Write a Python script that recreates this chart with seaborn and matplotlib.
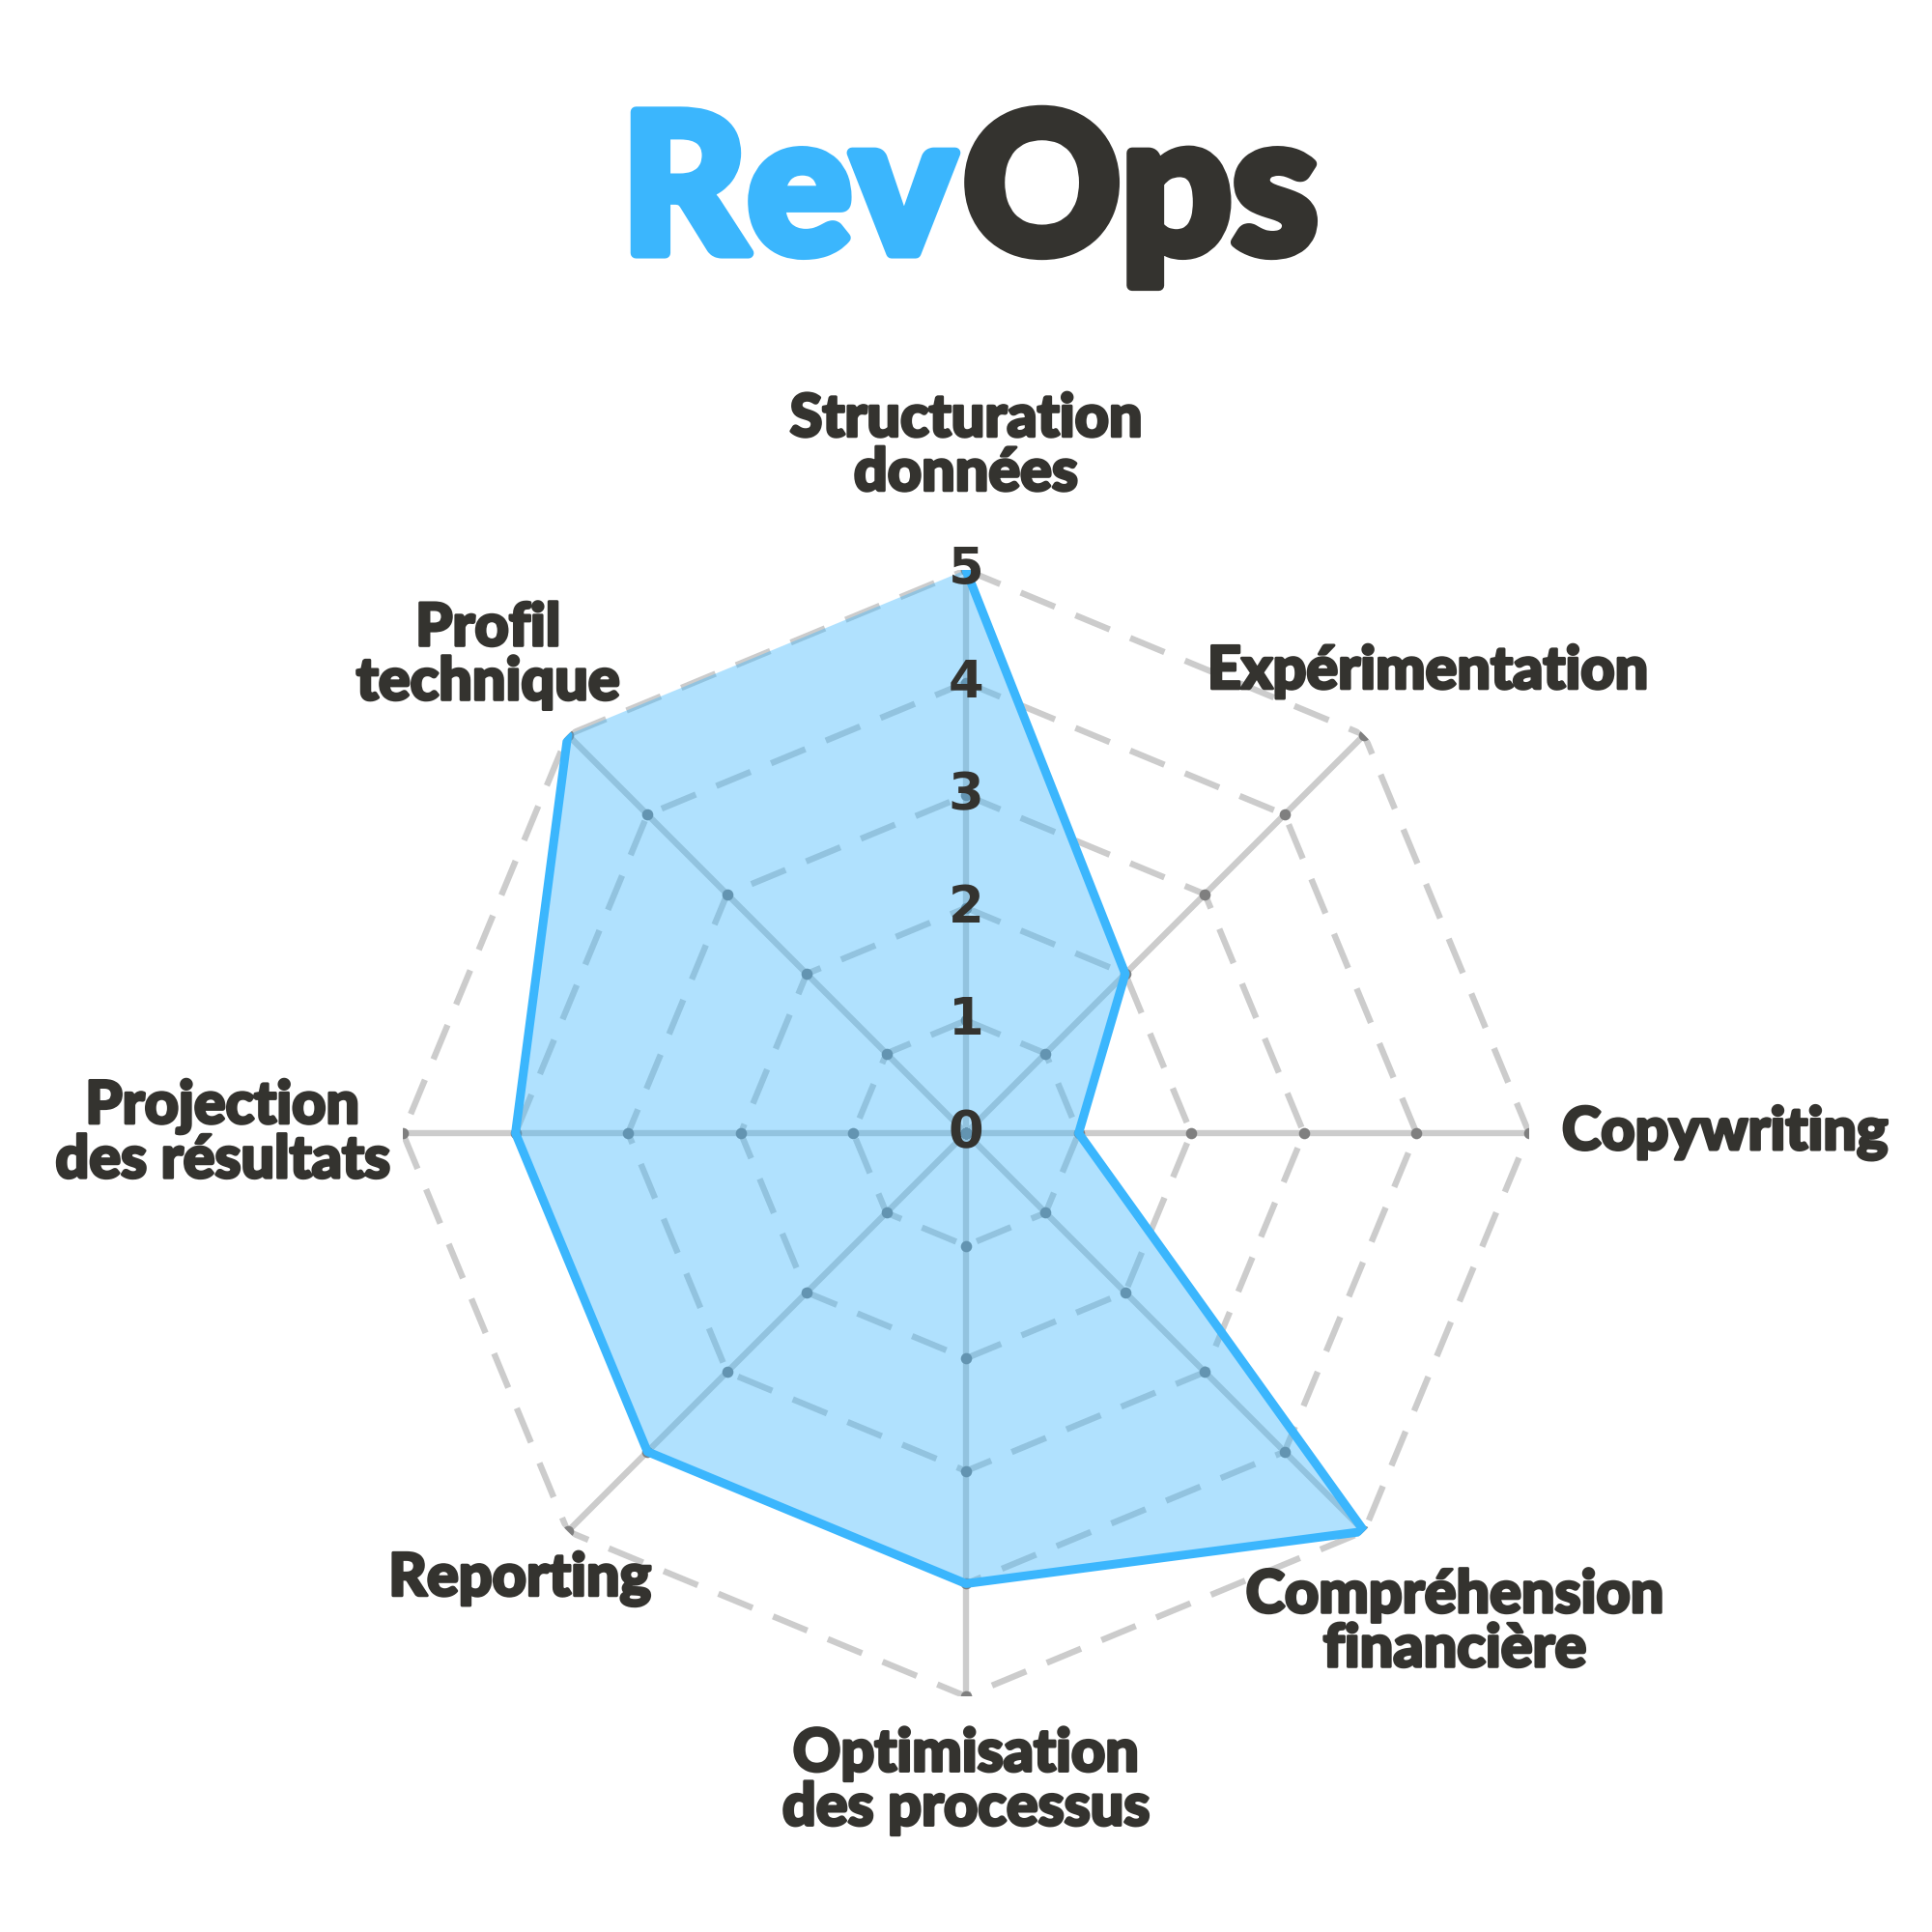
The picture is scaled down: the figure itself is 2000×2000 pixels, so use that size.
import numpy as np
import pandas as pd
import seaborn as sns
import matplotlib.pyplot as plt
import matplotlib.patheffects as pe

# skill radar data (clockwise from the top)
categories = [
    "Structuration\ndonnées",
    "Expérimentation",
    "Copywriting",
    "Compréhension\nfinancière",
    "Optimisation\ndes processus",
    "Reporting",
    "Projection\ndes résultats",
    "Profil\ntechnique",
]
scores = [5, 2, 1, 5, 4, 4, 4, 5]
levels = [0, 1, 2, 3, 4, 5]

BLUE = "#3bb6fd"
DARK = "#34332f"
GRID = "#cccccc"

sns.set_theme(style="white")
plt.rcParams["font.family"] = ["Lato", "DejaVu Sans"]

n = len(categories)
angles = np.linspace(0, 2 * np.pi, n, endpoint=False)
df = pd.DataFrame({
    "angle": np.append(angles, angles[0]),
    "score": scores + [scores[0]],
})

fig = plt.figure(figsize=(20, 20), dpi=100)
ax = fig.add_axes([0.2085, 0.122, 0.583, 0.583], polar=True)
ax.set_theta_offset(np.pi / 2)
ax.set_theta_direction(-1)
ax.set_ylim(0, 5)
ax.grid(False)
ax.spines["polar"].set_visible(False)
ax.set_xticks([])
ax.set_yticks([])
ax.set_facecolor("none")

# polygon grid
ring = np.append(angles, angles[0])
for lv in levels[1:]:
    ax.plot(ring, [lv] * (n + 1), color=GRID, lw=4.6,
            linestyle=(0, (6, 3.6)), zorder=1)
for a in angles:
    ax.plot([a, a], [0, levels[-1]], color=GRID, lw=4.6, zorder=1)
    ax.scatter([a] * len(levels), levels, s=70, color="#7f7f7f",
               zorder=2, linewidths=0)

# data polygon
ax.fill(df["angle"], df["score"], color=BLUE, alpha=0.4, lw=0, zorder=3)
sns.lineplot(data=df, x="angle", y="score", sort=False, color=BLUE,
             linewidth=6.5, ax=ax, zorder=4)
ax.set_xlabel("")
ax.set_ylabel("")

# radial tick labels along the top axis
for lv in levels:
    ax.text(0, lv, str(lv), ha="center", va="center", fontsize=38,
            fontweight="bold", family="DejaVu Sans",
            color=DARK, zorder=6)

# category labels
label_r = [6.1, 5.8, 6.74, 6.14, 5.75, 5.6, 6.6, 6.0]
thick = [pe.withStroke(linewidth=2.2, foreground=DARK)]
for a, lab, r in zip(angles, categories, label_r):
    ax.text(a, r, lab, ha="center", va="center", fontsize=44,
            fontweight="black", color=DARK, linespacing=1.0,
            path_effects=thick)

# title
heavy = [pe.withStroke(linewidth=8, foreground=BLUE)]
fig.text(0.4945, 0.869, "Rev", ha="right", va="baseline", fontsize=145,
         fontweight="black", color=BLUE, path_effects=heavy)
heavy = [pe.withStroke(linewidth=8, foreground=DARK)]
fig.text(0.4985, 0.869, "Ops", ha="left", va="baseline", fontsize=145,
         fontweight="black", color=DARK, path_effects=heavy)

fig.savefig("out.png", dpi=100, facecolor="white")
